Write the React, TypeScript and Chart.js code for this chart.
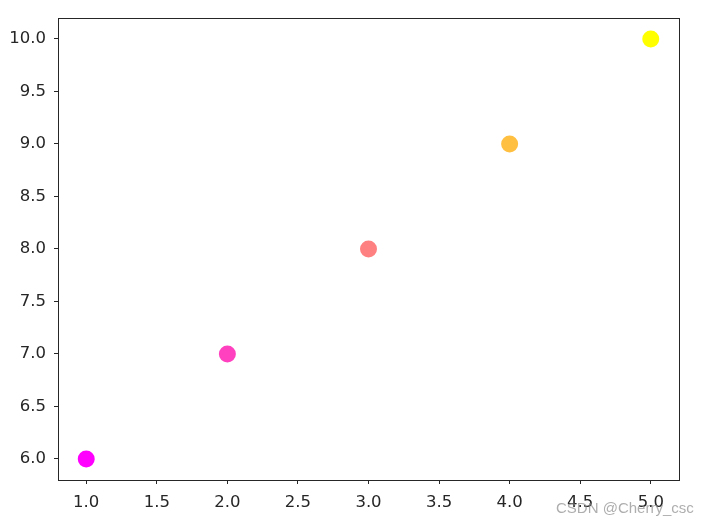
import React, { useEffect, useRef } from "react";
import { Chart, registerables } from "chart.js";

Chart.register(...registerables);

const xValues = [1, 2, 3, 4, 5];
const yValues = [6, 7, 8, 9, 10];
const pointColors = ["#ff00ff", "#ff40bf", "#ff8080", "#ffbf40", "#ffff00"];
const xTicks = [1.0, 1.5, 2.0, 2.5, 3.0, 3.5, 4.0, 4.5, 5.0];
const yTicks = [6.0, 6.5, 7.0, 7.5, 8.0, 8.5, 9.0, 9.5, 10.0];
const watermark = "CSDN @Cherry_csc";

const frame = {
  id: "frame",
  afterDraw(chart: any) {
    const { ctx, chartArea: a } = chart;
    ctx.save();
    ctx.strokeStyle = "#262626";
    ctx.lineWidth = 1;
    ctx.strokeRect(Math.round(a.left) + 0.5, Math.round(a.top) + 0.5, Math.round(a.right - a.left), Math.round(a.bottom - a.top));
    ctx.restore();
  },
};

export default function App() {
  const ref = useRef<HTMLCanvasElement>(null);
  useEffect(() => {
    const data = xValues.map((x, i) => ({ x, y: yValues[i] }));
    const font = { family: "DejaVu Sans", size: 16.5 };
    const chart = new Chart(ref.current!, {
      type: "scatter",
      data: {
        datasets: [
          {
            data,
            backgroundColor: pointColors,
            borderWidth: 0,
            pointRadius: 8.5,
            pointHoverRadius: 8.5,
          },
        ],
      },
      options: {
        animation: false,
        responsive: false,
        events: [],
        layout: { padding: { top: 18, right: 28, bottom: 0, left: 0 } },
        plugins: { legend: { display: false }, tooltip: { enabled: false } },
        scales: {
          x: {
            type: "linear",
            min: 0.8,
            max: 5.2,
            afterBuildTicks: (s: any) => { s.ticks = xTicks.map((v) => ({ value: v })); },
            afterFit: (s: any) => { s.height = 46; },
            grid: { drawOnChartArea: false, drawTicks: true, tickLength: 4, color: "#262626" },
            border: { display: false },
            ticks: { font, color: "#262626", padding: 9, maxRotation: 0, autoSkip: false, callback: (v: any) => Number(v).toFixed(1) },
          },
          y: {
            type: "linear",
            min: 5.8,
            max: 10.2,
            afterBuildTicks: (s: any) => { s.ticks = yTicks.map((v) => ({ value: v })); },
            afterFit: (s: any) => { s.width = 58; },
            grid: { drawOnChartArea: false, drawTicks: true, tickLength: 4, color: "#262626" },
            border: { display: false },
            ticks: { font, color: "#262626", padding: 8, autoSkip: false, callback: (v: any) => Number(v).toFixed(1) },
          },
        },
      },
      plugins: [frame],
    });
    return () => chart.destroy();
  }, []);
  return (
    <div style={{ position: "absolute", left: 0, top: 0, width: 707, height: 526, background: "#fff" }}>
      <canvas ref={ref} width={707} height={526} style={{ display: "block" }} />
      <div
        style={{
          position: "absolute",
          left: 556,
          top: 499,
          fontFamily: "Liberation Sans, Arial, sans-serif",
          fontSize: 15,
          color: "rgba(140,140,140,0.7)",
          whiteSpace: "nowrap",
        }}
      >
        {watermark}
      </div>
    </div>
  );
}
